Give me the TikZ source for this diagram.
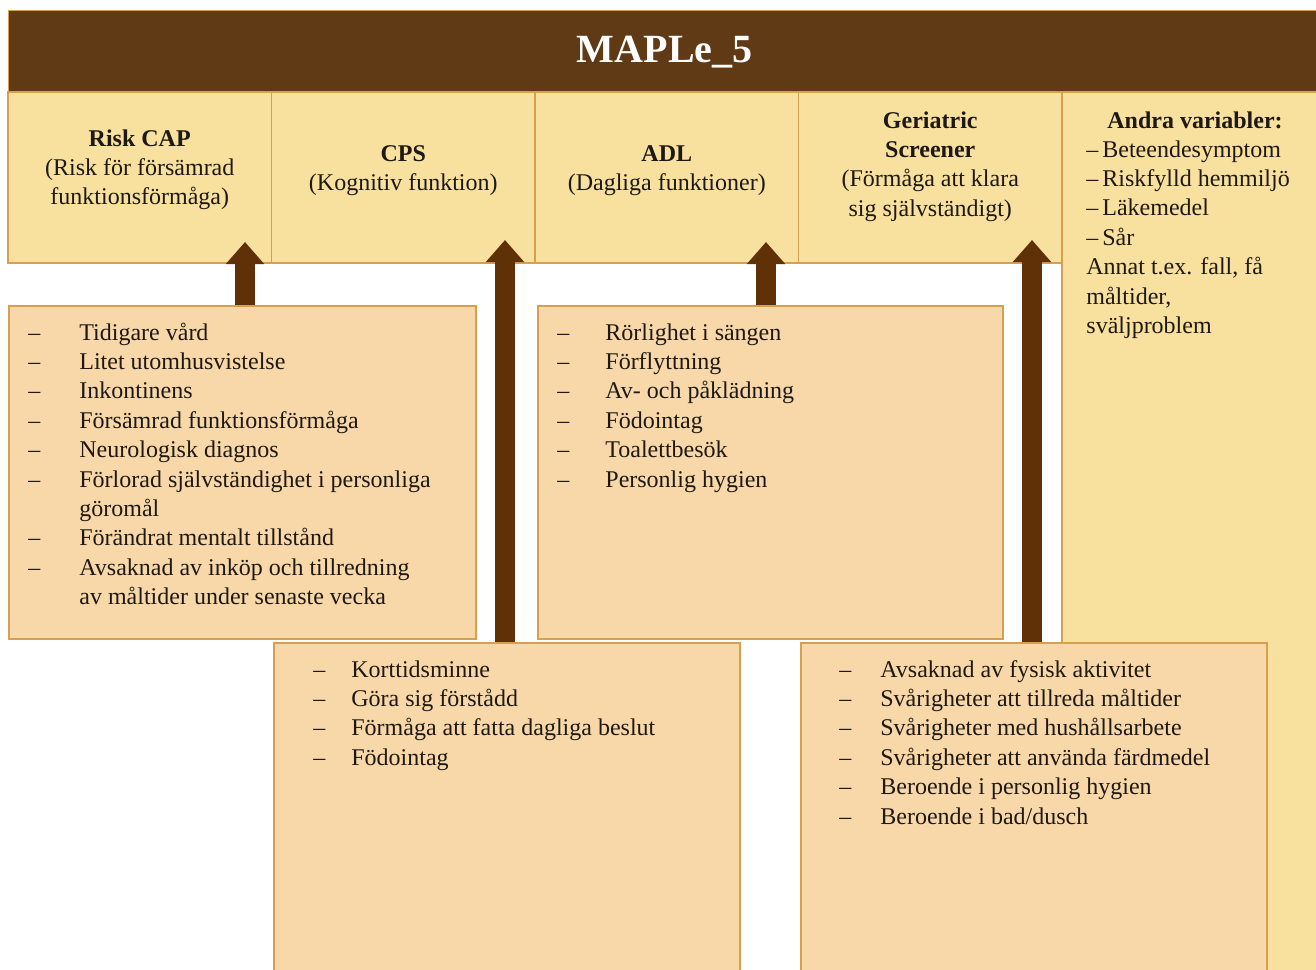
\documentclass[tikz,border=0pt]{standalone}
\usepackage{fontspec}
\setmainfont{Liberation Serif}
\usetikzlibrary{arrows.meta,positioning}

\definecolor{barbrown}{RGB}{96,57,21}
\definecolor{arrowbrown}{RGB}{96,48,6}
\definecolor{headfill}{RGB}{248,224,158}
\definecolor{boxfill}{RGB}{248,216,168}
\definecolor{cellline}{RGB}{214,160,80}
\definecolor{ink}{RGB}{30,25,20}

\newcommand{\rows}[2]{\begin{tabular}[t]{@{}#1@{}}#2\end{tabular}}
\newcommand{\dashlist}[2]{\begin{tabular}[t]{@{}p{#1}@{}l@{}}#2\end{tabular}}

\begin{document}
\begin{tikzpicture}[x=0.5pt, y=-0.5pt,
  every node/.style={font=\fontsize{12}{14.7}\selectfont, text=ink},
  hcell/.style={draw=cellline, fill=headfill, line width=0.7pt, inner sep=0,
    outer sep=0, minimum width=131.75pt, minimum height=85.5pt},
  lbox/.style={draw=cellline, fill=boxfill, line width=1pt, inner sep=0,
    anchor=north west, minimum height=166.5pt},
  ltext/.style={anchor=base west, inner sep=0},
  htext/.style={anchor=base, inner sep=0},
  bigarrow/.style={draw=arrowbrown, line width=10pt,
    -{Triangle[length=11pt,width=18.5pt]}}]
  \useasboundingbox (0,0) rectangle (1316,969);

  % title bar
  \node[draw=cellline, fill=barbrown, line width=0.7pt, anchor=north west,
    minimum width=656pt, minimum height=41pt, inner sep=0,
    font=\fontsize{20}{24}\bfseries\selectfont, text=white] (title) at (8,10) {MAPLe\_5};

  % header cells
  \node[hcell, anchor=north west] (hrisk) at (8,92) {};
  \node[hcell, right=0pt of hrisk] (hcps) {};
  \node[hcell, right=0pt of hcps] (hadl) {};
  \node[hcell, right=0pt of hadl] (hger) {};
  \node[hcell, anchor=north west, minimum width=130pt, minimum height=440pt] (handra) at (hger.north east) {};

  \node[htext] (trisk) at ([yshift=-27pt]hrisk.north)
    {\rows{c}{\textbf{Risk CAP}\\(Risk för försämrad\\funktionsförmåga)}};
  \node[htext] (tcps) at ([yshift=-34.5pt]hcps.north)
    {\rows{c}{\textbf{CPS}\\(Kognitiv funktion)}};
  \node[htext] (tadl) at ([yshift=-34.5pt]hadl.north)
    {\rows{c}{\textbf{ADL}\\(Dagliga funktioner)}};
  \node[htext] (tger) at ([yshift=-18pt]hger.north)
    {\rows{c}{\textbf{Geriatric}\\\textbf{Screener}\\(Förmåga att klara\\sig självständigt)}};
  \node[htext] (tandra) at (1195,128) {\textbf{Andra variabler:}};
  \node[ltext] (landra) at (1086,157)
    {\rows{l}{--\,Beteendesymptom\\--\,Riskfylld hemmiljö\\--\,Läkemedel\\--\,Sår\\
      Annat t.ex. fall, få\\måltider,\\sväljproblem}};

  % list boxes
  \node[lbox, minimum width=233.5pt] (lrisk) at (8,305) {};
  \node[lbox, minimum width=232.5pt] (ladl) at (537,305) {};
  \node[lbox, minimum width=233pt, minimum height=165pt] (lcps) at (273,642) {};
  \node[lbox, minimum width=233pt, minimum height=165pt] (lger) at (800,642) {};

  \node[ltext] (xrisk) at ([xshift=10pt, yshift=-17.5pt]lrisk.north west)
    {\dashlist{25.5pt}{-- & Tidigare vård\\-- & Litet utomhusvistelse\\-- & Inkontinens\\
      -- & Försämrad funktionsförmåga\\-- & Neurologisk diagnos\\
      -- & Förlorad självständighet i personliga\\ & göromål\\
      -- & Förändrat mentalt tillstånd\\-- & Avsaknad av inköp och tillredning\\
      & av måltider under senaste vecka}};
  \node[ltext] (xadl) at ([xshift=10pt, yshift=-17.5pt]ladl.north west)
    {\dashlist{24pt}{-- & Rörlighet i sängen\\-- & Förflyttning\\-- & Av- och påklädning\\
      -- & Födointag\\-- & Toalettbesök\\-- & Personlig hygien}};
  \node[ltext] (xcps) at ([xshift=20pt, yshift=-17.5pt]lcps.north west)
    {\dashlist{19pt}{-- & Korttidsminne\\-- & Göra sig förstådd\\
      -- & Förmåga att fatta dagliga beslut\\-- & Födointag}};
  \node[ltext] (xger) at ([xshift=19.5pt, yshift=-17.5pt]lger.north west)
    {\dashlist{20.5pt}{-- & Avsaknad av fysisk aktivitet\\-- & Svårigheter att tillreda måltider\\
      -- & Svårigheter med hushållsarbete\\-- & Svårigheter att använda färdmedel\\
      -- & Beroende i personlig hygien\\-- & Beroende i bad/dusch}};

  % arrows
  \coordinate (tiprisk) at (245,242);
  \coordinate (tipcps) at (505,240);
  \coordinate (tipadl) at (766,242);
  \coordinate (tipger) at (1032,240);
  \draw[bigarrow] (lrisk.north -| tiprisk) -- (tiprisk);
  \draw[bigarrow] (lcps.north -| tipcps) -- (tipcps);
  \draw[bigarrow] (ladl.north -| tipadl) -- (tipadl);
  \draw[bigarrow] (lger.north -| tipger) -- (tipger);
\end{tikzpicture}
\end{document}
